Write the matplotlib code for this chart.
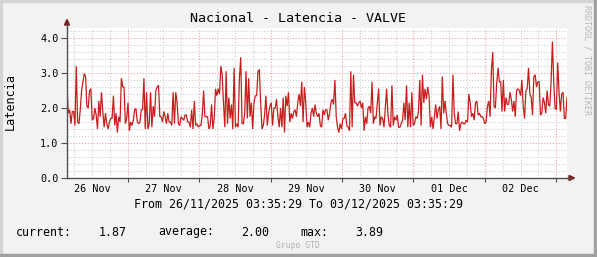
import matplotlib
matplotlib.use('Agg')
import matplotlib.pyplot as plt
import matplotlib.dates as mdates
from matplotlib.lines import Line2D
from matplotlib.patches import Rectangle, Polygon
import pandas as pd

title = "Nacional - Latencia - VALVE"
ylabel = "Latencia"
start = "2025-11-26 03:35:29"
end = "2025-12-03 03:35:29"
range_text = "From 26/11/2025 03:35:29 To 03/12/2025 03:35:29"
stat_names = ["current:", "average:", "max:"]
stat_values = [1.87, 2.00, 3.89]
watermark = "Grupo GTD"
side_text = "RRDTOOL / TOBI OETIKER"
y_ticks = [0.0, 1.0, 2.0, 3.0, 4.0]

latency = [
    # 26 Nov
    2.55, 1.85, 1.95, 1.55, 1.9, 1.9, 1.5, 3.2, 1.6, 1.55, 1.95, 2.5, 2.75, 2.98, 2.9,
    2.05, 2.0, 2.5, 2.55, 1.65, 1.7, 2.0, 1.8, 1.4, 2.2, 1.75, 2.45, 1.9, 1.45, 1.85,
    1.55, 1.4, 1.6, 1.7, 1.7, 2.35, 1.5, 1.85, 1.3, 1.75, 1.6, 2.85, 2.6, 2.6, 1.55,
    # 27 Nov
    1.7, 2.15, 1.35, 1.6, 1.5, 1.65, 1.95, 1.98, 1.6, 1.55, 1.6, 1.95, 1.95, 2.85, 1.4,
    2.45, 1.4, 1.55, 2.45, 1.45, 2.05, 1.75, 2.5, 2.6, 2.65, 1.75, 1.75, 1.6, 1.9, 1.75,
    1.55, 1.85, 1.6, 1.6, 1.5, 2.45, 1.55, 2.45, 2.15, 1.55, 1.5, 1.75, 1.7, 1.65, 1.8,
    1.8, 1.6,
    # 28 Nov
    1.6, 1.45, 1.95, 1.4, 2.2, 1.5, 1.55, 1.45, 1.5, 1.5, 1.8, 2.5, 1.75, 1.75, 1.75,
    1.4, 1.5, 2.1, 1.4, 1.7, 2.55, 2.35, 2.55, 2.4, 3.2, 2.95, 2.15, 1.45, 3.05, 1.55,
    2.3, 1.7, 2.1, 1.4, 3.15, 1.45, 1.55, 1.45, 2.85, 3.45, 1.55, 1.55, 1.85, 3.05, 1.7,
    2.85, 1.75,
    2.15, 1.4, 2.15, 2.35, 2.35, 3.05, 3.1, 2.15, 1.4, 1.5, 1.8, 2.35, 1.5, 1.85, 2.05,
    2.15, 1.5, 2.0, 2.0, 2.25, 1.75, 1.45, 2.0, 1.45, 2.3, 1.3, 2.35, 2.05, 2.45, 1.6,
    1.85, 1.7, 1.9, 1.95, 1.75, 2.15, 2.4, 2.05, 2.75, 1.6, 2.6, 2.15, 1.45, 1.6, 1.45,
    1.85, 2.0,
    # 29-30 Nov
    1.75, 2.1, 1.85, 1.75, 1.85, 1.5, 1.45, 1.95, 1.8, 1.95, 1.95, 1.65, 1.85, 2.15, 2.25,
    2.1, 2.8, 1.75, 1.45, 1.3, 1.55, 1.4, 1.7, 1.7, 1.85, 1.5, 1.45, 1.35, 3.05, 1.45,
    2.95, 2.15, 2.15, 2.05, 2.15, 2.2, 2.0, 2.15, 1.35, 1.75, 1.55, 2.0, 2.05, 1.85, 2.75,
    1.55, 1.75,
    1.7, 2.15, 2.55, 1.5, 1.75, 1.7, 1.45, 2.0, 2.55, 1.8, 1.5, 1.45, 2.65, 1.5, 1.75,
    1.65, 1.8, 1.45, 1.45, 1.55, 1.65, 2.15, 1.65, 2.65, 1.45, 2.15, 1.45, 2.45, 1.5, 1.55,
    1.75, 1.7, 1.9, 2.8, 1.5, 2.95, 2.15, 2.55, 2.25, 2.6, 2.35, 1.45, 1.75, 1.4, 1.75,
    2.1, 1.7,
    # 01 Dec
    1.95, 2.05, 1.4, 2.9, 1.85, 2.2, 1.85, 1.55, 1.5, 1.5, 1.45, 2.95, 1.85, 1.55, 1.55,
    1.9, 1.35, 1.55, 1.6, 1.55, 1.55, 1.65, 1.6, 2.4, 2.15, 1.75, 1.85, 1.65, 2.15, 2.2,
    1.8, 1.85, 1.75, 1.75, 1.7, 1.55, 1.6, 2.05, 2.2, 1.75, 3.05, 3.6, 2.05, 2.0, 2.7,
    3.15, 2.75,
    # 02 Dec
    2.75, 1.9, 2.8, 1.9, 2.3, 2.1, 2.1, 2.45, 2.25, 1.9, 2.2, 1.75, 2.5, 2.55, 2.5,
    2.35, 2.8, 2.05, 1.7, 2.5, 2.55, 3.15, 2.4, 2.3, 1.8, 2.9, 2.95, 2.6, 2.75, 2.75,
    1.8, 1.85, 2.3, 2.15, 1.85, 2.5, 2.1, 2.05, 2.75, 3.9, 2.75, 2.0, 1.95, 3.3, 2.45,
    1.9, 2.4, 2.45, 1.7, 1.7, 2.3,
]

W, H = 597, 257
MONO = 'DejaVu Sans Mono'


def fx(x):
    return x / W


def fy(y):
    return 1 - y / H


fig = plt.figure(figsize=(W / 100, H / 100), dpi=100, facecolor='#f2f2f2')

# frame (light top/left, dark bottom/right)
fig.patches.append(Rectangle((0, fy(2)), 1, fy(0) - fy(2), transform=fig.transFigure,
                             color='#d4d4d4', zorder=0))
fig.patches.append(Rectangle((0, 0), fx(2), 1, transform=fig.transFigure,
                             color='#d4d4d4', zorder=0))
fig.patches.append(Rectangle((0, 0), 1, 1 - fy(3), transform=fig.transFigure,
                             color='#a0a0a0', zorder=0))
fig.patches.append(Rectangle((fx(594), 0), fx(3), 1, transform=fig.transFigure,
                             color='#a0a0a0', zorder=0))

L, R, T, B = 67, 567, 28, 178
ax = fig.add_axes([fx(L), fy(B), (R - L) / W, (B - T) / H])
ax.set_facecolor('white')

t0 = pd.Timestamp(start)
t1 = pd.Timestamp(end)
times = pd.date_range(t0, t1, periods=len(latency))
ax.set_xlim(t0, t1)
ymax = (B - T) / 35.0
ax.set_ylim(0, ymax)

# grid
dot = (0, (1, 1.6))
y = 0.2
while y < ymax:
    if abs(y - round(y)) > 1e-6:
        ax.axhline(y, color='#cfcfcf', lw=0.8, ls=dot, zorder=1)
    y += 0.2
for v in y_ticks[1:]:
    ax.axhline(v, color='#f2a0a0', lw=0.8, ls=dot, zorder=1)

six_h = pd.date_range(t0.ceil('6h'), t1, freq='6h')
for tt in six_h:
    if tt.hour == 0:
        ax.axvline(tt, color='#f2a0a0', lw=0.8, ls=dot, zorder=1)
    else:
        ax.axvline(tt, color='#cfcfcf', lw=0.8, ls=dot, zorder=1)

ax.plot(times, latency, color='#c81e1e', lw=0.9, zorder=3, solid_joinstyle='miter')

for s in ['top', 'right']:
    ax.spines[s].set_visible(False)
for s in ['left', 'bottom']:
    ax.spines[s].set_color('#505050')
    ax.spines[s].set_linewidth(1.0)
    ax.spines[s].set_zorder(4)

ax.set_yticks(y_ticks)
ax.set_yticklabels([f"{v:.1f}" for v in y_ticks], fontfamily=MONO, fontsize=7.3)
ax.tick_params(axis='y', length=4.5, width=0.8, color='#505050', pad=1.5)

ax.xaxis.set_major_locator(mdates.DayLocator())
ax.xaxis.set_major_formatter(plt.NullFormatter())
ax.xaxis.set_minor_locator(mdates.HourLocator(byhour=[12]))
ax.xaxis.set_minor_formatter(mdates.DateFormatter('%d %b'))
ax.tick_params(axis='x', which='major', length=3, width=0.8, color='#505050')
ax.tick_params(axis='x', which='minor', length=0, pad=4.5)
for lab in ax.xaxis.get_minorticklabels():
    lab.set_fontfamily(MONO)
    lab.set_fontsize(7.3)

# axis arrows
fig.add_artist(Line2D([fx(L), fx(L)], [fy(T), fy(23)], color='#505050', lw=1.0))
fig.add_artist(Line2D([fx(R), fx(571)], [fy(B), fy(B)], color='#505050', lw=1.0))
fig.add_artist(Polygon([(fx(64.5), fy(25)), (fx(69.5), fy(25)), (fx(67), fy(19.5))],
                       closed=True, transform=fig.transFigure, color='#7a1c1c'))
fig.add_artist(Polygon([(fx(569), fy(175.5)), (fx(569), fy(180.5)), (fx(574.5), fy(178))],
                       closed=True, transform=fig.transFigure, color='#7a1c1c'))

# texts
fig.text(fx(298.5), fy(19), title, ha='center', va='center', fontfamily=MONO, fontsize=9.6)
fig.text(fx(10.5), fy(102), ylabel, ha='center', va='center', rotation=90,
         fontfamily=MONO, fontsize=8.6)
fig.text(fx(298), fy(204), range_text, ha='center', va='center', fontfamily=MONO,
         fontsize=8.4)
name_x = [16, 158, 300]
val_x = [127, 269, 383]
for nx, vx, nm, vl in zip(name_x, val_x, stat_names, stat_values):
    fig.text(fx(nx), fy(232), nm, ha='left', va='center', fontfamily=MONO, fontsize=8.4)
    fig.text(fx(vx), fy(232), f"{vl:.2f}", ha='right', va='center', fontfamily=MONO,
             fontsize=8.4)
fig.text(fx(298), fy(246), watermark, ha='center', va='center', fontfamily=MONO,
         fontsize=5.8, color='#b0b0b0')
fig.text(fx(587.5), fy(60), side_text, ha='center', va='center', rotation=270,
         fontfamily=MONO, fontsize=6.0, color='#b8b8b8')

fig.savefig('out.png', dpi=100, facecolor=fig.get_facecolor())
